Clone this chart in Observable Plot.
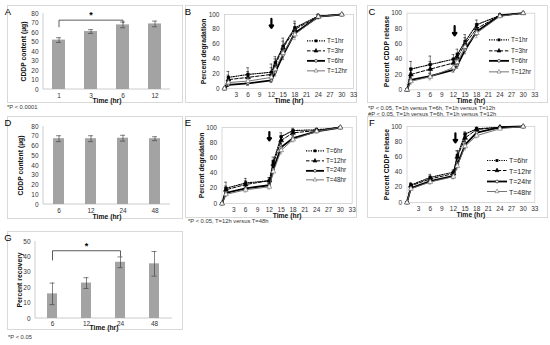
<!DOCTYPE html>
<html><head><meta charset="utf-8">
<script src="https://cdn.jsdelivr.net/npm/d3@7"></script>
<script src="https://cdn.jsdelivr.net/npm/@observablehq/plot@0.6"></script>
<style>
body{margin:0;background:#fff;}
#root{position:relative;width:550px;height:345px;overflow:hidden;font-family:"Liberation Sans",Arial,sans-serif;color:#000;}
.box{position:absolute;border:1px solid #d9d9d9;box-sizing:border-box;}
.plot{position:absolute;}
.plot svg{overflow:visible;}
.lbl{position:absolute;font-size:9.5px;line-height:1;transform:translate(-50%,-50%);}
.note{position:absolute;font-size:5.8px;line-height:1;white-space:nowrap;color:#333;transform:translateY(-50%);}
.leg-row{position:absolute;display:flex;align-items:center;white-space:nowrap;line-height:1;transform:translateY(-50%);color:#222;}
.leg-row svg{margin-right:2px;overflow:visible;}
</style></head><body><div id="root"></div>
<script>
// ---------- DATA ----------
const timesHr = [0, 1, 6, 12, 13, 15, 18, 24, 30];
const xTickValues = [3, 6, 9, 12, 15, 18, 21, 24, 27, 30, 33];
const pctTicks = [0, 20, 40, 60, 80, 100];

const legendBC = ["T=1hr", "T=3hr", "T=6hr", "T=12hr"];
const legendEF = ["T=6hr", "T=12hr", "T=24hr", "T=48hr"];

// Panel A
const aTimes = ["1", "3", "6", "12"];
const aContent = [52, 61, 68, 69];
const aErr = [2.5, 2, 3, 3];
const aTicks = [0, 10, 20, 30, 40, 50, 60, 70, 80];
// Panel D
const dTimes = ["6", "12", "24", "48"];
const dContent = [67.5, 67.5, 68, 67.5];
const dErr = [3, 3, 3, 2];
// Panel G
const gTimes = ["6", "12", "24", "48"];
const gRecovery = [16, 23, 36.5, 35.5];
const gErr = [7, 3.5, 3.5, 8];
const gTicks = [0, 10, 20, 30, 40, 50];

// Panel B: percent degradation
const bT1 = [0, 15, 19, 22, 35, 57, 82, 98, 100];
const bT1err = [0, 8, 9, 11, 8, 11, 9, 3, 1];
const bT3 = [0, 12, 15, 19, 32, 55, 80, 97, 100];
const bT3err = [0, 6, 8, 9, 8, 9, 8, 3, 1];
const bT6 = [0, 5, 7, 11, 22, 45, 75, 97, 100];
const bT6err = [0, 2, 3, 3, 5, 6, 6, 2, 1];
const bT12 = [0, 8, 10, 15, 26, 48, 73, 97, 100];
const bT12err = [0, 4, 5, 5, 6, 7, 7, 2, 1];
// Panel C: percent CDDP release
const cT1 = [0, 27, 33, 40, 46, 63, 85, 97, 100];
const cT1err = [0, 10, 11, 6, 7, 9, 6, 2, 1];
const cT3 = [0, 20, 27, 35, 42, 60, 80, 97, 100];
const cT3err = [0, 8, 10, 6, 6, 8, 6, 2, 1];
const cT6 = [0, 13, 18, 26, 32, 52, 76, 97, 100];
const cT6err = [0, 3, 3, 3, 4, 5, 5, 2, 1];
const cT12 = [0, 11, 17, 29, 36, 56, 74, 96, 100];
const cT12err = [0, 4, 4, 4, 5, 6, 6, 2, 1];
// Panel E: percent degradation
const eT6 = [0, 20, 27, 30, 55, 88, 96, 97, 100];
const eT6err = [0, 8, 6, 4, 6, 5, 3, 2, 1];
const eT12 = [0, 18, 25, 30, 52, 83, 93, 96, 100];
const eT12err = [0, 5, 5, 4, 5, 5, 3, 2, 1];
const eT24 = [0, 14, 20, 24, 45, 74, 86, 95, 100];
const eT24err = [0, 3, 3, 3, 4, 5, 3, 2, 1];
const eT48 = [0, 12, 18, 22, 42, 70, 84, 95, 100];
const eT48err = [0, 3, 3, 3, 4, 5, 3, 2, 1];
// Panel F: percent CDDP release
const fT6 = [0, 23, 33, 40, 62, 90, 97, 99, 100];
const fT6err = [0, 3, 4, 3, 6, 3, 2, 1, 1];
const fT12 = [0, 22, 31, 38, 60, 85, 96, 99, 100];
const fT12err = [0, 3, 4, 3, 8, 5, 2, 1, 1];
const fT24 = [0, 19, 28, 35, 50, 76, 92, 99, 100];
const fT24err = [0, 2, 3, 3, 4, 5, 2, 1, 1];
const fT48 = [0, 18, 27, 34, 48, 74, 88, 97, 100];
const fT48err = [0, 2, 3, 3, 4, 5, 3, 1, 1];

// Arrow annotations (time, top value, tip value)
const arrowB = [{t: 12, top: 94, tip: 82}];
const arrowC = [{t: 12.3, top: 83, tip: 71}];
const arrowE = [{t: 12, top: 94, tip: 83}];
const arrowF = [{t: 12.5, top: 91, tip: 79}];

// Significance brackets
const bracketA = [{c: "1", v: 66}, {c: "1", v: 73}, {c: "6", v: 73}, {c: "6", v: 70}];
const starA = [{c: "3", v: 78}];
const bracketG = [{c: "6", v: 38}, {c: "6", v: 44}, {c: "24", v: 44}, {c: "24", v: 40.5}];
const starG = [{c: "12", v: 47}];

// ---------- STYLE ----------
const FONT = '"Liberation Sans", Arial, sans-serif';
const seriesStyles = [
  {dash: "1.2,1.2", sw: 1.1, stroke: "#000", symbol: "square", fill: "#000", r: 1.5, err: "#000"},
  {dash: "3.5,1.8", sw: 1.0, stroke: "#000", symbol: "triangle", fill: "#000", r: 1.8, err: "#000"},
  {dash: null, sw: 1.8, stroke: "#000", symbol: "circle", fill: "#fff", r: 1.3, err: "#000"},
  {dash: null, sw: 0.9, stroke: "#666", symbol: "triangle", fill: "#fff", r: 1.8, err: "#666"}
];
const root = document.getElementById("root");

function addBox(b) {
  const d = document.createElement("div");
  d.className = "box";
  Object.assign(d.style, {left: b.left + "px", top: b.top + "px", width: b.w + "px", height: b.h + "px"});
  root.appendChild(d);
}
function addText(cls, txt, x, y, extra) {
  const d = document.createElement("div");
  d.className = cls;
  d.textContent = txt;
  Object.assign(d.style, {left: x + "px", top: y + "px"}, extra || {});
  root.appendChild(d);
}
function place(svg, b) {
  const d = document.createElement("div");
  d.className = "plot";
  Object.assign(d.style, {left: b.left + "px", top: b.top + "px"});
  d.appendChild(svg);
  root.appendChild(d);
}
function margins(b, p) {
  return {width: b.w, height: b.h, marginLeft: p.x0 - b.left, marginRight: b.left + b.w - p.x1,
          marginTop: p.y0 - b.top, marginBottom: b.top + b.h - p.y1};
}
function titleMarks(cfg) {
  return [
    Plot.text([cfg.xlabel], {text: d => d, frameAnchor: "bottom", lineAnchor: "middle", textAnchor: "middle",
      dy: cfg.xTitleDy, fontWeight: "bold", fontSize: 6.8, fill: "#111"}),
    Plot.text([cfg.ylabel], {text: d => d, frameAnchor: "left", rotate: -90, textAnchor: "middle", lineAnchor: "middle",
      dx: cfg.yTitleDx, fontWeight: "bold", fontSize: 6.8, fill: "#111"})
  ];
}

function barPanel(cfg) {
  const data = cfg.cats.map((c, i) => ({c, v: cfg.vals[i], e: cfg.errs[i]}));
  const axisLines = (index, scales, values, dim) => {
    const g = d3.create("svg:g").attr("stroke", "#bfbfbf").attr("stroke-width", 0.8);
    const l = dim.marginLeft, r = dim.width - dim.marginRight, t = dim.marginTop, b = dim.height - dim.marginBottom;
    g.append("line").attr("x1", l).attr("x2", l).attr("y1", t).attr("y2", b);
    g.append("line").attr("x1", l).attr("x2", r).attr("y1", b).attr("y2", b);
    return g.node();
  };
  const marks = [
    axisLines,
    Plot.axisY({ticks: cfg.yticks, tickSize: 0, tickPadding: 5, label: null, fontSize: 6.5, fill: "#333"}),
    Plot.axisX({tickSize: 0, tickPadding: cfg.xpad, label: null, fontSize: 6.5, fill: "#333"}),
    ...titleMarks(cfg),
    Plot.barY(data, {x: "c", y: "v", fill: "#a3a3a3"}),
    Plot.ruleX(data, {x: "c", y1: d => d.v - d.e, y2: d => d.v + d.e, stroke: "#333", strokeWidth: 0.6}),
    Plot.tickY(data, {x: "c", y: d => d.v + d.e, stroke: "#333", strokeWidth: 0.6, inset: cfg.capInset}),
    Plot.tickY(data, {x: "c", y: d => d.v - d.e, stroke: "#333", strokeWidth: 0.6, inset: cfg.capInset})
  ];
  if (cfg.bracket) {
    marks.push(Plot.line(cfg.bracket, {x: "c", y: "v", stroke: "#333", strokeWidth: 0.8}));
    marks.push(Plot.text(cfg.star, {x: "c", y: "v", text: () => "*", fontSize: 9, fontWeight: "bold"}));
  }
  const svg = Plot.plot({
    ...margins(cfg.box, cfg.plot),
    style: {fontFamily: FONT, fontSize: "6.5px", background: "transparent", overflow: "visible"},
    x: {domain: cfg.cats, paddingInner: cfg.pi, paddingOuter: cfg.po, axis: null},
    y: {domain: cfg.ydomain, axis: null},
    marks
  });
  place(svg, cfg.box);
}

function linePanel(cfg) {
  const marks = [
    Plot.frame({stroke: "#cfcfcf", strokeWidth: 0.8}),
    Plot.axisY({ticks: pctTicks, tickSize: 0, tickPadding: 5, label: null, fontSize: 6.5, fill: "#333"}),
    Plot.axisX({ticks: xTickValues, tickSize: 0, tickPadding: cfg.xpad, label: null, fontSize: 6.5, fill: "#333"}),
    ...titleMarks(cfg)
  ];
  cfg.series.forEach((s, si) => {
    const st = seriesStyles[si];
    const d = timesHr.map((t, i) => ({t, v: s.vals[i], e: s.errs[i]}));
    const de = d.filter(r => r.e > 0);
    marks.push(Plot.ruleX(de, {x: "t", y1: r => r.v - r.e, y2: r => r.v + r.e, stroke: st.err, strokeWidth: 0.5}));
    marks.push(Plot.ruleY(de, {y: r => r.v + r.e, x1: r => r.t - 0.35, x2: r => r.t + 0.35, stroke: st.err, strokeWidth: 0.5}));
    marks.push(Plot.ruleY(de, {y: r => r.v - r.e, x1: r => r.t - 0.35, x2: r => r.t + 0.35, stroke: st.err, strokeWidth: 0.5}));
    marks.push(Plot.line(d, {x: "t", y: "v", stroke: st.stroke, strokeWidth: st.sw, strokeDasharray: st.dash || undefined}));
    marks.push(Plot.dot(d, {x: "t", y: "v", symbol: st.symbol, r: st.r, fill: st.fill, stroke: st.stroke, strokeWidth: 0.6}));
  });
  marks.push(Plot.arrow(cfg.arrow, {x1: "t", x2: "t", y1: "top", y2: "tip", stroke: "#000", strokeWidth: 2.2, headLength: 5, headAngle: 70}));
  const svg = Plot.plot({
    ...margins(cfg.box, cfg.plot),
    style: {fontFamily: FONT, fontSize: "6.5px", background: "transparent", overflow: "visible"},
    x: {domain: [0, 33], axis: null},
    y: {domain: [0, 100], axis: null},
    marks
  });
  place(svg, cfg.box);
  // legend
  const L = cfg.legend;
  cfg.labels.forEach((lab, i) => {
    const st = seriesStyles[i];
    const row = document.createElement("div");
    row.className = "leg-row";
    Object.assign(row.style, {left: L.x + "px", top: (L.y + i * L.dy) + "px", fontSize: L.fs + "px"});
    const sw = d3.create("svg").attr("width", L.w).attr("height", 6);
    sw.append("line").attr("x1", 0).attr("x2", L.w).attr("y1", 3).attr("y2", 3)
      .attr("stroke", st.stroke).attr("stroke-width", st.sw).attr("stroke-dasharray", st.dash);
    const cx = L.w / 2;
    if (st.symbol === "square") sw.append("rect").attr("x", cx - 1.4).attr("y", 1.6).attr("width", 2.8).attr("height", 2.8).attr("fill", st.fill);
    else if (st.symbol === "triangle") sw.append("path").attr("d", `M${cx},0.6L${cx + 2},4.2L${cx - 2},4.2Z`).attr("fill", st.fill).attr("stroke", st.stroke).attr("stroke-width", 0.6);
    else sw.append("circle").attr("cx", cx).attr("cy", 3).attr("r", 1.4).attr("fill", st.fill).attr("stroke", st.stroke).attr("stroke-width", 0.6);
    row.appendChild(sw.node());
    const sp = document.createElement("span");
    sp.textContent = lab;
    row.appendChild(sp);
    root.appendChild(row);
  });
}

// ---------- PANELS ----------
const boxA = {left: 7, top: 5, w: 176, h: 98};
addBox(boxA);
barPanel({box: boxA, plot: {x0: 43, x1: 170, y0: 13, y1: 89}, cats: aTimes, vals: aContent, errs: aErr,
  ydomain: [0, 80], yticks: aTicks, pi: 0.6, po: 0.26, capInset: 4, xpad: 4, xTitleDy: 11.5, yTitleDx: -20,
  xlabel: "Time (hr)", ylabel: "CDDP content (µg)", bracket: bracketA, star: starA});

const boxD = {left: 7, top: 116, w: 176, h: 103};
addBox(boxD);
barPanel({box: boxD, plot: {x0: 43, x1: 170, y0: 126, y1: 204}, cats: dTimes, vals: dContent, errs: dErr,
  ydomain: [0, 80], yticks: aTicks, pi: 0.65, po: 0.29, capInset: 3, xpad: 3.5, xTitleDy: 12, yTitleDx: -23,
  xlabel: "Time (hr)", ylabel: "CDDP content (µg)"});

const boxG = {left: 7, top: 231, w: 176, h: 99};
addBox(boxG);
barPanel({box: boxG, plot: {x0: 35, x1: 172, y0: 241, y1: 318}, cats: gTimes, vals: gRecovery, errs: gErr,
  ydomain: [0, 50], yticks: gTicks, pi: 0.7, po: 0.35, capInset: 2.5, xpad: 3, xTitleDy: 9.5, yTitleDx: -16,
  xlabel: "Time (hr)", ylabel: "Percent recovery", bracket: bracketG, star: starG});

const boxB = {left: 185, top: 5, w: 172, h: 98};
addBox(boxB);
linePanel({box: boxB, plot: {x0: 224, x1: 353, y0: 14, y1: 88}, xpad: 4, xTitleDy: 12, yTitleDx: -21,
  xlabel: "Time (hr)", ylabel: "Percent degradation", arrow: arrowB, labels: legendBC,
  series: [{vals: bT1, errs: bT1err}, {vals: bT3, errs: bT3err}, {vals: bT6, errs: bT6err}, {vals: bT12, errs: bT12err}],
  legend: {x: 307, y: 41, dy: 10, w: 18, fs: 6.3}});

const boxC = {left: 367, top: 5, w: 181, h: 98};
addBox(boxC);
linePanel({box: boxC, plot: {x0: 406.5, x1: 534.3, y0: 12.7, y1: 89.3}, xpad: 3, xTitleDy: 11.5, yTitleDx: -20,
  xlabel: "Time (hr)", ylabel: "Percent CDDP release", arrow: arrowC, labels: legendBC,
  series: [{vals: cT1, errs: cT1err}, {vals: cT3, errs: cT3err}, {vals: cT6, errs: cT6err}, {vals: cT12, errs: cT12err}],
  legend: {x: 489, y: 40, dy: 10.5, w: 20, fs: 6.3}});

const boxE = {left: 185, top: 116, w: 172, h: 102};
addBox(boxE);
linePanel({box: boxE, plot: {x0: 221.5, x1: 351.7, y0: 127, y1: 203}, xpad: 3.5, xTitleDy: 12, yTitleDx: -20,
  xlabel: "Time (hr)", ylabel: "Percent degradation", arrow: arrowE, labels: legendEF,
  series: [{vals: eT6, errs: eT6err}, {vals: eT12, errs: eT12err}, {vals: eT24, errs: eT24err}, {vals: eT48, errs: eT48err}],
  legend: {x: 306, y: 151, dy: 9.7, w: 18, fs: 6.3}});

const boxF = {left: 367, top: 116, w: 181, h: 102};
addBox(boxF);
linePanel({box: boxF, plot: {x0: 406.5, x1: 534.3, y0: 126, y1: 202}, xpad: 3.5, xTitleDy: 12, yTitleDx: -20,
  xlabel: "Time (hr)", ylabel: "Percent CDDP release", arrow: arrowF, labels: legendEF,
  series: [{vals: fT6, errs: fT6err}, {vals: fT12, errs: fT12err}, {vals: fT24, errs: fT24err}, {vals: fT48, errs: fT48err}],
  legend: {x: 487, y: 160, dy: 10.5, w: 20, fs: 7}});

// ---------- LETTERS & FOOTNOTES ----------
[["A", 8, 12], ["B", 188, 12], ["C", 372, 12], ["D", 8, 123], ["E", 188, 123], ["F", 372, 123], ["G", 8, 238]]
  .forEach(([t, x, y]) => addText("lbl", t, x, y));
addText("note", "*P < 0.0001", 7, 108);
addText("note", "*P < 0.05, T=1h versus T=6h, T=1h versus T=12h", 368, 109);
addText("note", "#P < 0.05, T=1h versus T=6h, T=1h versus T=12h", 368, 114.5);
addText("note", "*P < 0.05, T=12h versus T=48h", 188, 222);
addText("note", "*P < 0.05", 8, 338);
</script></body></html>
